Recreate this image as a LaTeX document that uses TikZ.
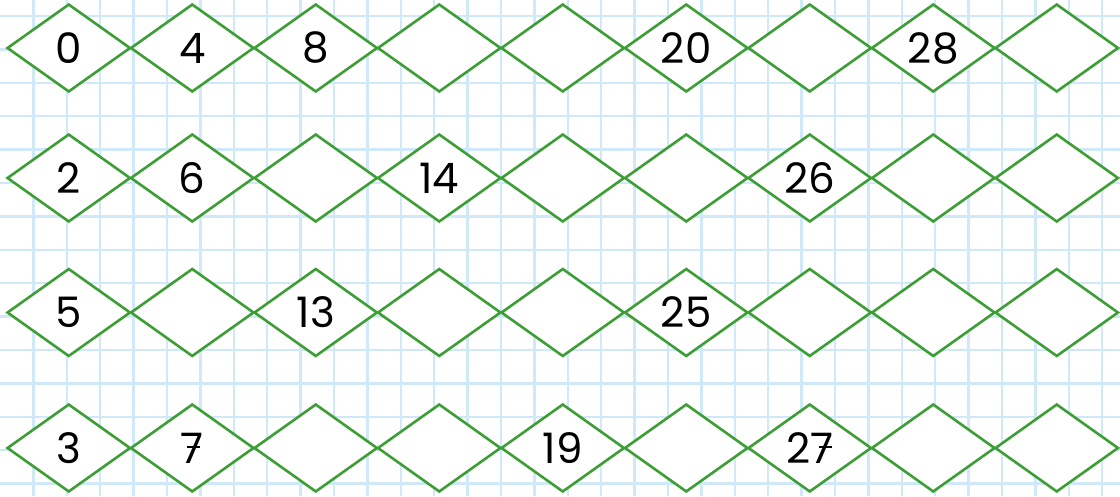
\documentclass[tikz,border=0pt]{standalone}
\usepackage{fontspec}
\setmainfont{Poppins}
\usetikzlibrary{shapes.geometric}
\definecolor{gridblue}{HTML}{D0E9F9}
\definecolor{dgreen}{HTML}{3E9E36}
\tikzset{
  cell/.style={shape=diamond, draw=dgreen, line width=2.6pt, fill=white,
    minimum width=123.5pt, minimum height=88pt, aspect=1.4, inner sep=0pt,
    font=\fontsize{42}{42}\selectfont, text=black},
  gridline/.style={draw=gridblue, line width=2.4pt},
  crossbar/.style={draw=black, line width=2.6pt}
}
\begin{document}
\begin{tikzpicture}[x=1pt,y=-1pt]
\fill[white] (0,0) rectangle (1120,496);
\useasboundingbox (0,0) rectangle (1120,496);
\foreach \k in {1,...,33} {\draw[gridline] (33.4*\k,0) -- (33.4*\k,496);}
\foreach \k in {0,...,14} {\draw[gridline] (0,16+33.4*\k) -- (1120,16+33.4*\k);}
\foreach \r/\y/\labels in {1/48/{0,4,8,,,20,,28,},2/178/{2,6,,14,,,26,,},3/312.5/{5,,13,,,25,,,},4/448/{3,7,,,19,,27,,}} {
  \foreach \t [count=\c] in \labels {
    \node[cell] (d\r-\c) at (7+123.5*\c-61.75,\y) {\t};
  }
}
\draw[crossbar] ([xshift=-5pt,yshift=1pt]d4-2.center) -- ([xshift=8pt,yshift=1pt]d4-2.center);
\draw[crossbar] ([xshift=9pt,yshift=1pt]d4-7.center) -- ([xshift=22pt,yshift=1pt]d4-7.center);
\end{tikzpicture}
\end{document}
